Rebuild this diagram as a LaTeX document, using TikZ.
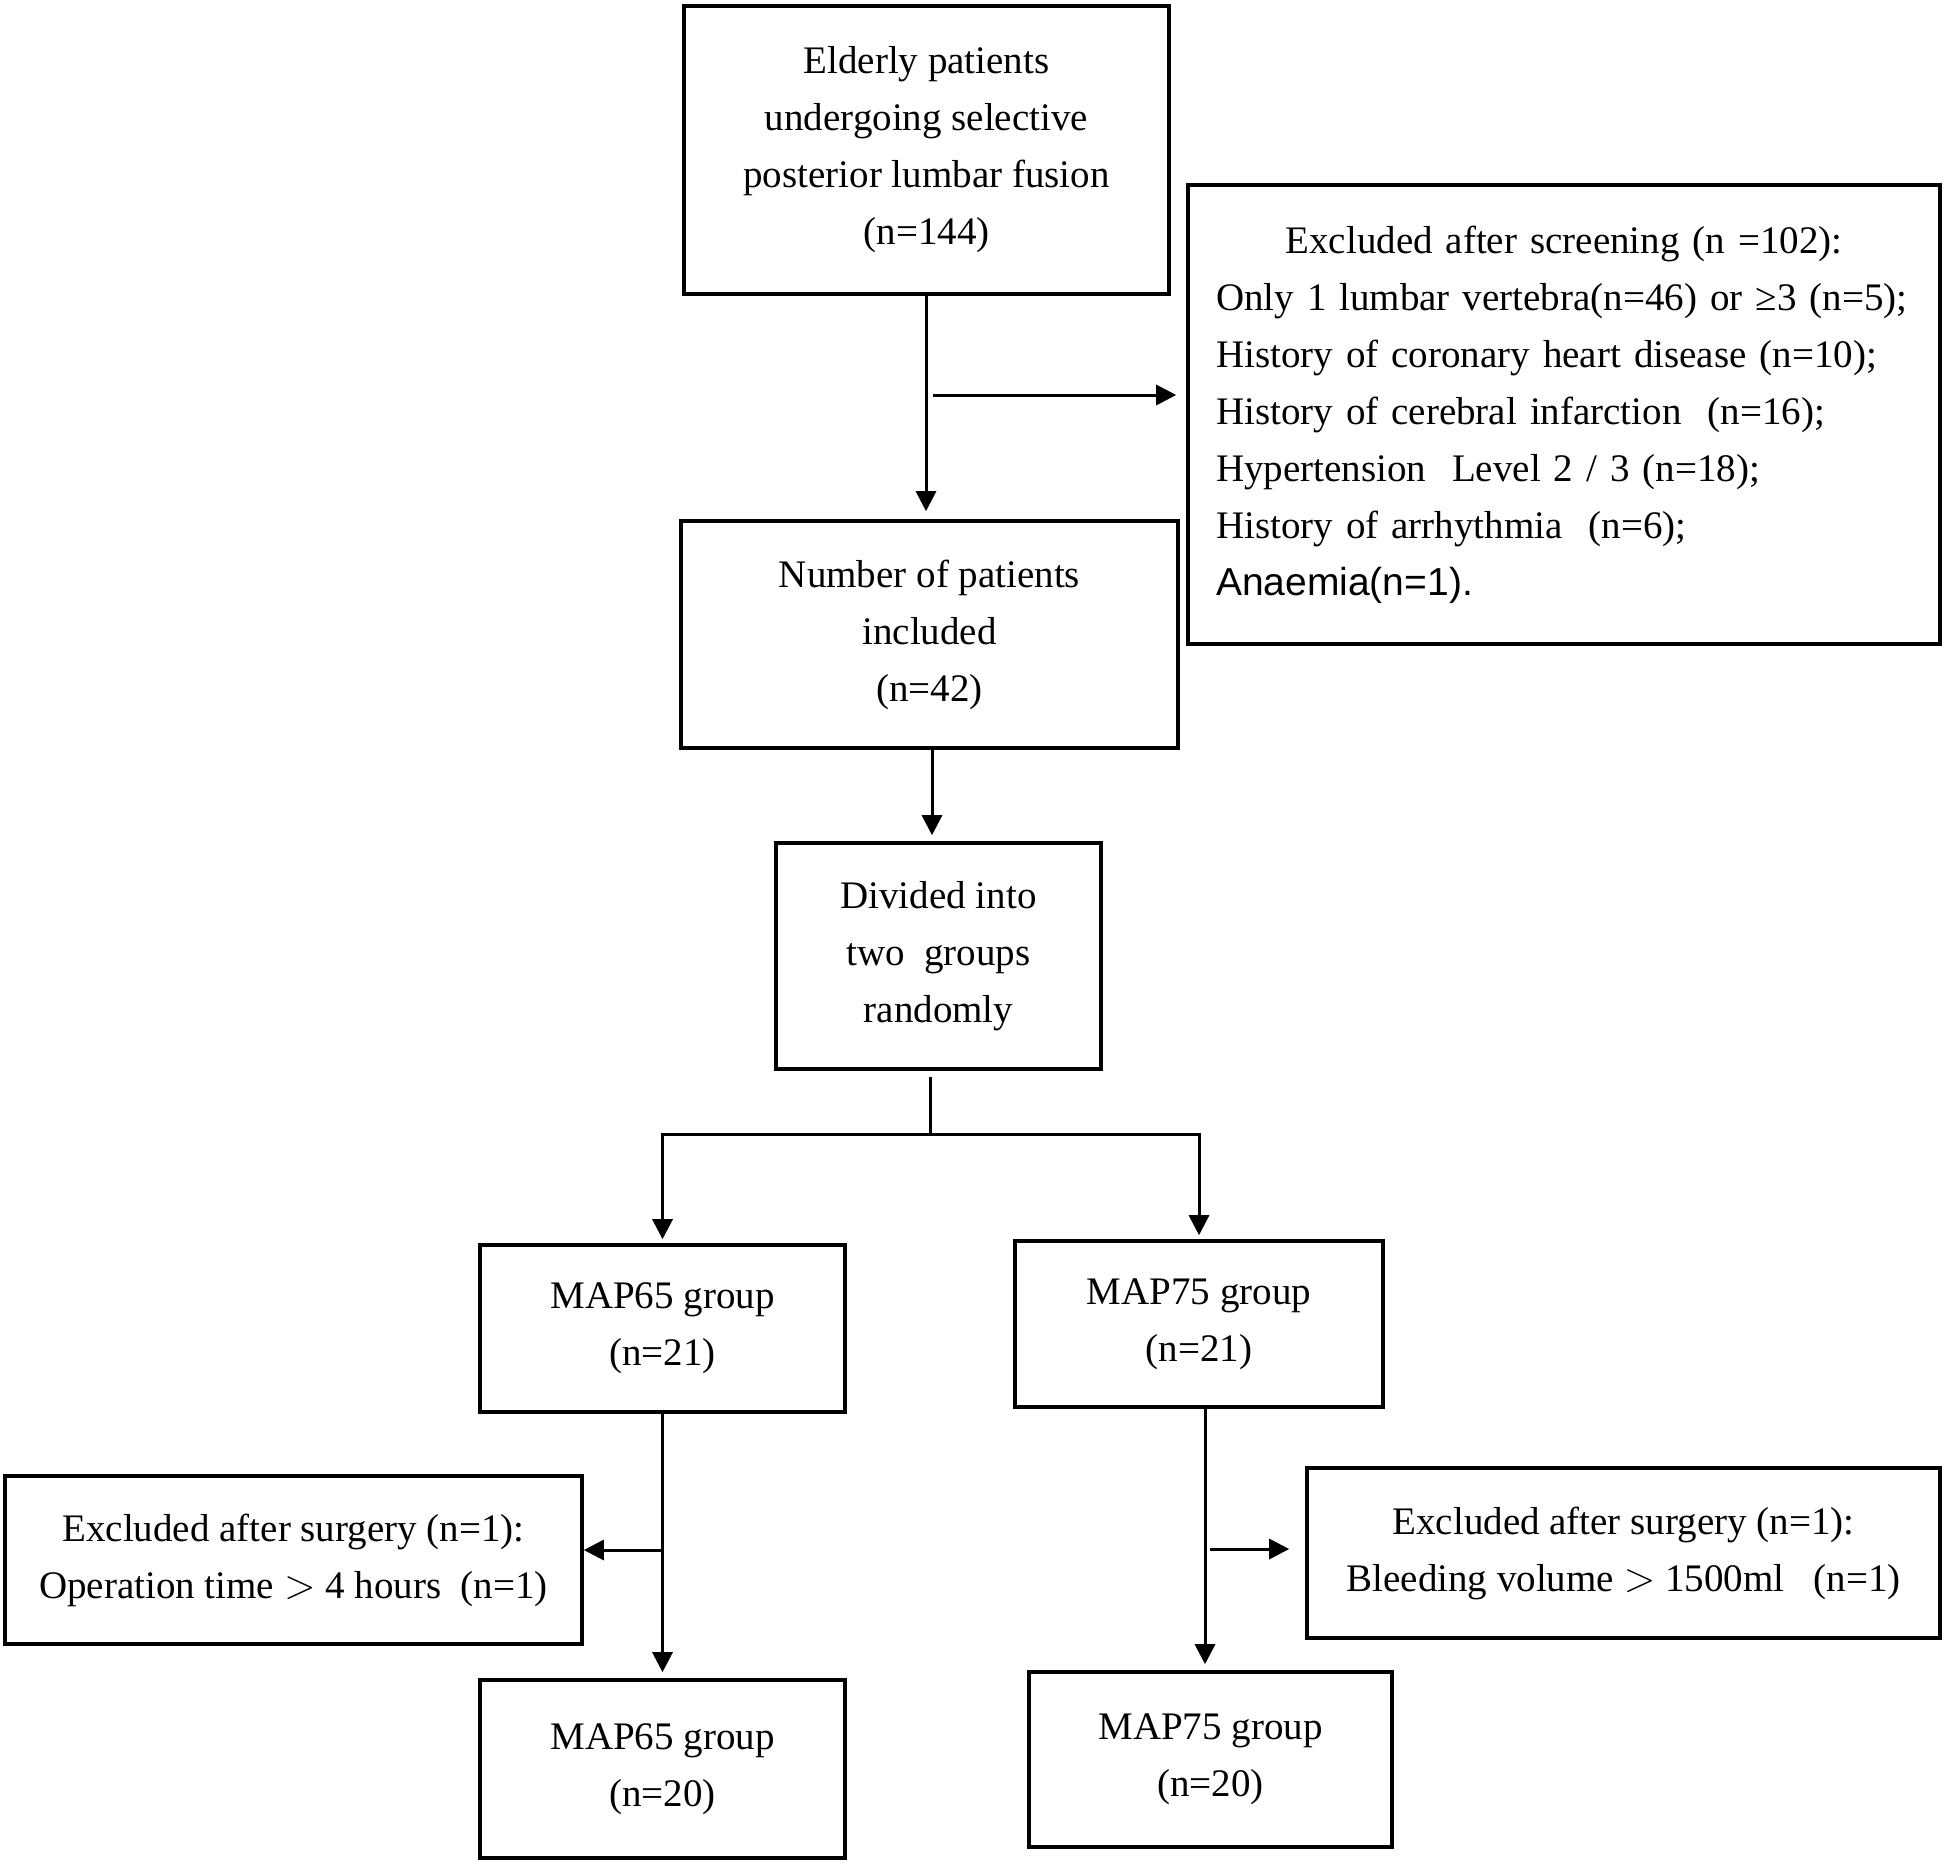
\documentclass[tikz,border=0pt]{standalone}
\usepackage{fontspec}
\setmainfont{Liberation Serif}
\newfontfamily\sansf{Liberation Sans}
\usetikzlibrary{arrows.meta}
\begin{document}
\begin{tikzpicture}[x=0.5pt,y=-0.5pt,
  box/.style={draw, line width=1.8pt, align=center, inner sep=0pt,
    font=\fontsize{19.5}{28.5}\selectfont},
  arr/.style={line width=1.5pt, -{Triangle[length=10pt,width=10pt]}},
  ln/.style={line width=1.5pt}]
\useasboundingbox (0,0) rectangle (1946,1863);
\fill[white] (0,0) rectangle (1946,1863);
\node[box, minimum width=242.5pt, minimum height=144pt] (top) at (926.5,150)
  {Elderly patients\\undergoing selective\\posterior lumbar fusion\\(n=144)};
\node[box, minimum width=376pt, minimum height=229.5pt, text width=348pt,
  align=left, inner xsep=14pt] (excl) at (1564,414.5)
  {\makebox[348pt][c]{Excluded after screening (n =102):}\\
   \makebox[348pt][l]{Only 1 lumbar vertebra(n=46) or ≥3 (n=5);}\\
   History of coronary heart disease (n=10);\\
   History of cerebral infarction\ \ (n=16);\\
   Hypertension\ \ Level 2 / 3 (n=18);\\
   History of arrhythmia\ \ (n=6);\\
   {\sansf Anaemia(n=1).}};
\node[box, minimum width=248.5pt, minimum height=113.5pt] (incl) at (929.5,634.5)
  {Number of patients\\included\\(n=42)};
\node[box, minimum width=162.5pt, minimum height=113pt] (div) at (938.5,956)
  {Divided into\\two\ \ groups\\randomly};
\node[box, minimum width=182.5pt, minimum height=83.5pt] (m65) at (662.5,1328.5)
  {MAP65 group\\(n=21)};
\node[box, minimum width=184pt, minimum height=83pt] (m75) at (1199,1324)
  {MAP75 group\\(n=21)};
\node[box, minimum width=288.5pt, minimum height=84pt] (lexcl) at (293.5,1560)
  {Excluded after surgery (n=1):\\Operation time $>$ 4 hours\ \ (n=1)};
\node[box, minimum width=316.5pt, minimum height=85pt] (rexcl) at (1623.5,1553)
  {Excluded after surgery (n=1):\\Bleeding volume $>$ 1500ml\ \ \ (n=1)};
\node[box, minimum width=182.5pt, minimum height=89pt] (m65b) at (662.5,1769)
  {MAP65 group\\(n=20)};
\node[box, minimum width=181.5pt, minimum height=87.5pt] (m75b) at (1210.5,1759.5)
  {MAP75 group\\(n=20)};
% connectors
\draw[arr, shorten >=4pt] (top.south -| 926,0) -- (926,0 |- incl.north);
\coordinate (b1) at (933,395);
\draw[arr, shorten >=5pt] (b1) -- (b1 -| excl.west);
\draw[arr, shorten >=3pt] (incl.south -| 932,0) -- (932,0 |- div.north);
\coordinate (split) at (930,1134);
\coordinate (dtop) at (930,1077);
\draw[ln] (dtop) -- (split);
\draw[arr, shorten >=2pt] (split) -| (m65.north);
\draw[arr, shorten >=2pt] (split) -| (m75.north);
\draw[arr, shorten >=3pt] (m65.south) -- (m65b.north);
\coordinate (b3) at (663,1550);
\draw[arr] (b3) -- (b3 -| lexcl.east);
\draw[arr, shorten >=3pt] (m75.south -| 1205,0) -- (1205,0 |- m75b.north);
\coordinate (b4) at (1210,1549);
\draw[arr, shorten >=8pt] (b4) -- (b4 -| rexcl.west);
\end{tikzpicture}
\end{document}
